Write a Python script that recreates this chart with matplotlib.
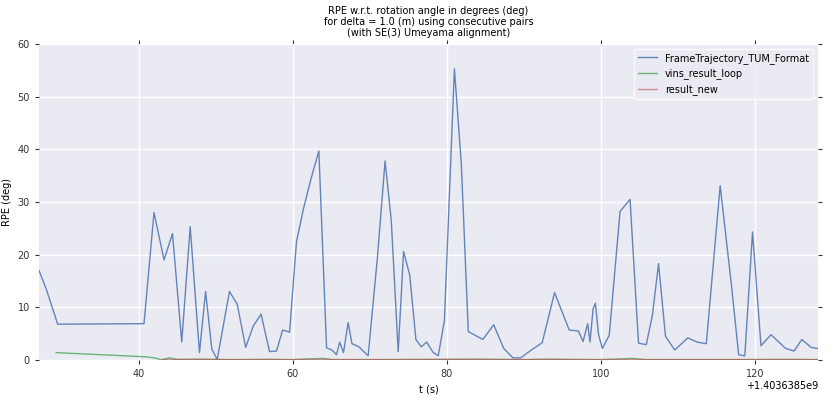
import matplotlib
matplotlib.use("Agg")
import matplotlib.pyplot as plt

# blue: FrameTrajectory_TUM_Format (t offset 1.4036385e9)
t_blue = [27.07, 28.0, 29.5, 40.7, 42.0, 43.3, 44.4, 45.6, 46.7, 47.9, 48.7, 49.5, 50.2,
          51.8, 52.8, 53.9, 54.9, 55.9, 57.0, 57.9, 58.7, 59.6, 60.5, 61.4, 62.4, 63.4,
          64.4, 65.1, 65.7, 66.1, 66.6, 67.2, 67.7, 68.6, 69.8, 71.0, 72.0, 72.8, 73.7,
          74.4, 75.2, 76.0, 76.7, 77.4, 78.2, 78.9, 79.7, 81.0, 81.9, 82.8, 84.7, 86.1,
          87.4, 88.6, 89.6, 90.8, 92.4, 94.0, 95.9, 97.1, 97.7, 98.3, 98.6, 99.0, 99.3,
          99.7, 100.2, 101.1, 102.5, 103.8, 104.9, 105.9, 106.7, 107.5, 108.4, 109.6,
          111.3, 112.5, 113.7, 115.5, 117.0, 117.9, 118.7, 119.7, 120.8, 122.1, 124.0,
          125.1, 126.1, 127.3, 128.1]
v_blue = [17.0, 13.5, 6.8, 6.9, 28.0, 19.0, 24.0, 3.4, 25.3, 1.4, 13.0, 2.1, 0.1,
          13.0, 10.6, 2.4, 6.5, 8.7, 1.6, 1.7, 5.7, 5.3, 22.5, 28.7, 34.5, 39.7,
          2.3, 1.9, 1.0, 3.4, 1.4, 7.1, 3.1, 2.5, 0.8, 19.4, 37.8, 26.5, 1.6,
          20.6, 16.1, 3.9, 2.5, 3.4, 1.5, 0.8, 7.5, 55.3, 37.1, 5.4, 3.9, 6.7,
          2.2, 0.4, 0.4, 1.7, 3.3, 12.8, 5.7, 5.5, 3.5, 6.9, 3.4, 9.7, 10.8,
          4.9, 2.2, 4.7, 28.2, 30.5, 3.2, 2.9, 8.5, 18.3, 4.5, 1.9,
          4.2, 3.4, 3.1, 33.1, 13.7, 1.0, 0.8, 24.3, 2.7, 4.8, 2.2,
          1.7, 3.9, 2.4, 2.2]

# green: vins_result_loop
t_green = [29.3, 41.0, 42.0, 43.0, 44.0, 45.0, 48.0, 52.0, 57.0, 60.0, 62.0, 64.0, 65.0,
           70.0, 84.0, 90.0, 93.0, 96.0, 100.0, 104.0, 106.0, 115.0, 125.0, 128.1]
v_green = [1.4, 0.6, 0.4, 0.05, 0.4, 0.1, 0.15, 0.05, 0.1, 0.05, 0.2, 0.3, 0.05,
           0.05, 0.15, 0.05, 0.15, 0.1, 0.05, 0.3, 0.05, 0.05, 0.1, 0.05]

# red: result_new
t_red = [43.0, 60.0, 80.0, 100.0, 128.1]
v_red = [0.1, 0.1, 0.1, 0.1, 0.1]

plt.rcParams.update({"font.size": 7})
fig = plt.figure(figsize=(8.32, 4.04), dpi=100)
ax = fig.add_axes([39/832, 44/404, (818-39)/832, (360-44)/404])
ax.set_facecolor("#eaeaf2")
ax.grid(True, color="white", linewidth=1)
ax.set_axisbelow(True)
for s in ax.spines.values():
    s.set_visible(False)

ax.plot(t_blue, v_blue, color="#4c72b0", lw=1, alpha=0.85, label="FrameTrajectory_TUM_Format")
ax.plot(t_green, v_green, color="#55a868", lw=1, alpha=0.85, label="vins_result_loop")
ax.plot(t_red, v_red, color="#c44e52", lw=1, alpha=0.6, label="result_new")

ax.set_xlim(27.07, 128.2)
ax.set_ylim(0, 60)
ax.tick_params(top=True, right=True, direction="out", length=3, color="#333333", labelcolor="#333333")
ax.text(1.0, -0.065, "+1.4036385e9", transform=ax.transAxes, ha="right", va="top", fontsize=7)
ax.set_xlabel("t (s)")
ax.set_ylabel("RPE (deg)")
ax.set_title("RPE w.r.t. rotation angle in degrees (deg)\nfor delta = 1.0 (m) using consecutive pairs\n(with SE(3) Umeyama alignment)",
             fontsize=7, linespacing=1.1)
leg = ax.legend(loc="upper right", frameon=True, facecolor="#eaeaf2", edgecolor="white", fontsize=7)

fig.savefig("out.png", dpi=100)
